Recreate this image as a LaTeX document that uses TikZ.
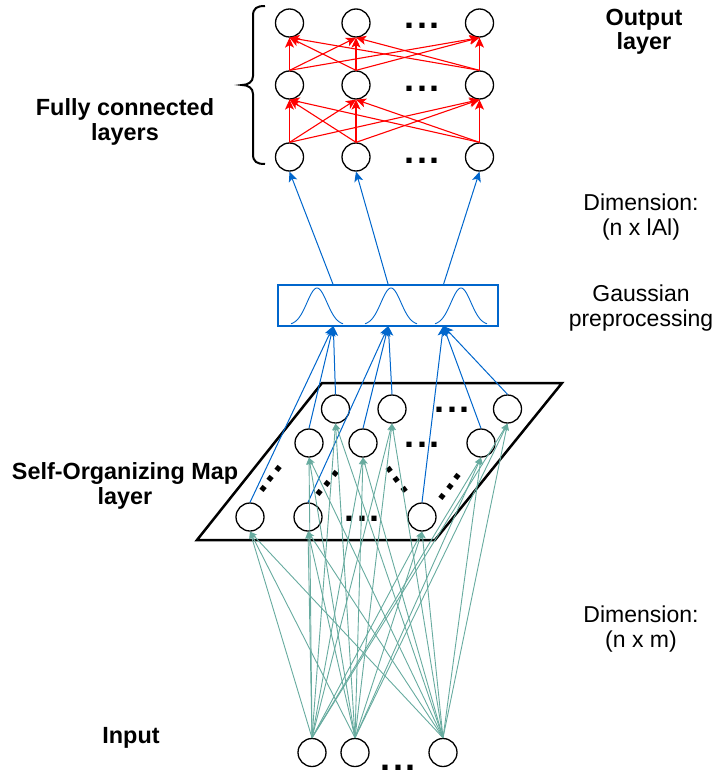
\documentclass[tikz,border=0pt]{standalone}
\usepackage{fontspec}
\setmainfont{Liberation Sans}
\usetikzlibrary{arrows.meta}
\definecolor{fcred}{HTML}{FF0000}
\definecolor{somblue}{HTML}{0066CC}
\definecolor{somteal}{HTML}{67AB9F}
\newcommand{\mydots}{.\kern2.6pt.\kern2.6pt.}
\begin{document}
\begin{tikzpicture}[x=1pt,y=-1pt,
  neuron/.style={circle,draw=black,line width=1.3pt,minimum size=28pt,inner sep=0pt},
  redarrow/.style={draw=fcred,line width=1.1pt,-{Stealth[length=10pt,width=9pt,inset=2.5pt]}},
  bluearrow/.style={draw=somblue,line width=1pt,-{Stealth[length=10pt,width=9pt,inset=2.5pt]}},
  tealarrow/.style={draw=somteal,line width=0.9pt,-{Stealth[length=7pt,width=6pt,inset=1.5pt]}},
  boldlabel/.style={font=\fontsize{23.4}{24.5}\selectfont\bfseries,align=center,inner sep=0pt},
  plainlabel/.style={font=\fontsize{23}{25}\selectfont,align=center,inner sep=0pt},
  dotlabel/.style={font=\fontsize{36}{36}\selectfont\bfseries,inner sep=0pt}
]
\useasboundingbox (0,0) rectangle (715,773);

% ---------- fully connected layers ----------
\foreach \r/\y in {a/157,b/85,c/23}{
  \node[neuron] (\r1) at (289.5,\y) {};
  \node[neuron] (\r2) at (356,\y) {};
  \node[neuron] (\r3) at (479.5,\y) {};
}
\node[dotlabel] (fcdc) at (422,26) {\mydots};
\node[dotlabel] (fcdb) at (422,89) {\mydots};
\node[dotlabel] (fcda) at (422,161) {\mydots};
\foreach \i in {1,2,3}{
  \foreach \j in {1,2,3}{
    \draw[redarrow] (a\i.north) -- (b\j.south);
    \draw[redarrow] (b\i.north) -- (c\j.south);
  }
}

% brace
\draw[line width=2pt] (265,6) .. controls (257,6) and (253,8) .. (253,16)
  -- (253,76) .. controls (253,82) and (248,85) .. (242,85)
  .. controls (248,85) and (253,88) .. (253,94)
  -- (253,154) .. controls (253,162) and (257,164) .. (265,164);

% ---------- gaussian box ----------
\node[draw=somblue,line width=2pt,minimum width=220pt,minimum height=41pt,inner sep=0pt] (gbox) at (388,305.5) {};
\foreach \cx in {317,391,461}{
  \draw[somblue,line width=0.9pt] plot[domain=-26:26,samples=60,smooth] ({\cx+\x},{325-37*exp(-(\x*\x)/200)});
}
\coordinate (gt1) at (333.3,285);
\coordinate (gt2) at (388.3,285);
\coordinate (gt3) at (443.3,285);
\coordinate (gb1) at (333.3,326);
\coordinate (gb2) at (388.3,326);
\coordinate (gb3) at (443.3,326);
\draw[bluearrow] (gt1) -- (a1.south);
\draw[bluearrow] (gt2) -- (a2.south);
\draw[bluearrow] (gt3) -- (a3.south);

% ---------- SOM layer ----------
\draw[line width=2.5pt,line join=miter] (322,383) -- (562,383) -- (435,540) -- (197,540) -- cycle;
\node[neuron] (s31) at (335.5,409) {};
\node[neuron] (s32) at (392,409) {};
\node[neuron] (s33) at (507.5,409) {};
\node[neuron] (s21) at (309,443) {};
\node[neuron] (s22) at (363,443) {};
\node[neuron] (s23) at (481,443) {};
\node[neuron] (s11) at (250,517) {};
\node[neuron] (s12) at (308,517) {};
\node[neuron] (s13) at (422,517) {};
\node[dotlabel] (sd3) at (452,410) {\mydots};
\node[dotlabel] (sd2) at (422,445) {\mydots};
\node[dotlabel] (sd1) at (362,519) {\mydots};
\node[dotlabel,rotate=51] (sdd1) at (271,479) {\mydots};
\node[dotlabel,rotate=51] (sdd2) at (327.5,483.5) {\mydots};
\node[dotlabel,rotate=-53] (sdd3) at (397,480) {\mydots};
\node[dotlabel,rotate=52] (sdd4) at (450,486.5) {\mydots};

\foreach \c in {1,2,3}{
  \foreach \r in {1,2,3}{
    \draw[bluearrow] (s\r\c.north) -- (gb\c);
  }
}

% ---------- input ----------
\node[neuron] (i1) at (312,752.5) {};
\node[neuron] (i2) at (355,752.5) {};
\node[neuron] (i3) at (443,752.5) {};
\node[dotlabel] (idots) at (398,767.5) {\mydots};
\foreach \k in {1,2,3}{
  \foreach \r in {1,2,3}{
    \foreach \c in {1,2,3}{
      \draw[tealarrow] (i\k.north) -- (s\r\c.south);
    }
  }
}

% ---------- labels (anchor=base is the last line's baseline) ----------
\node[boldlabel,anchor=base] (lfc) at (125,140) {Fully connected\\layers};
\node[boldlabel,anchor=base] (lout) at (644,50) {Output\\layer};
\node[plainlabel,anchor=base] (ldim1) at (641,235) {Dimension:\\(n x lAl)};
\node[plainlabel,anchor=base] (lgau) at (641,326) {Gaussian\\preprocessing};
\node[boldlabel,anchor=base] (lsom) at (125,504) {Self-Organizing Map\\layer};
\node[plainlabel,anchor=base] (ldim2) at (641,647) {Dimension:\\(n x m)};
\node[boldlabel,anchor=base] (lin) at (131,743) {Input};
\end{tikzpicture}
\end{document}
